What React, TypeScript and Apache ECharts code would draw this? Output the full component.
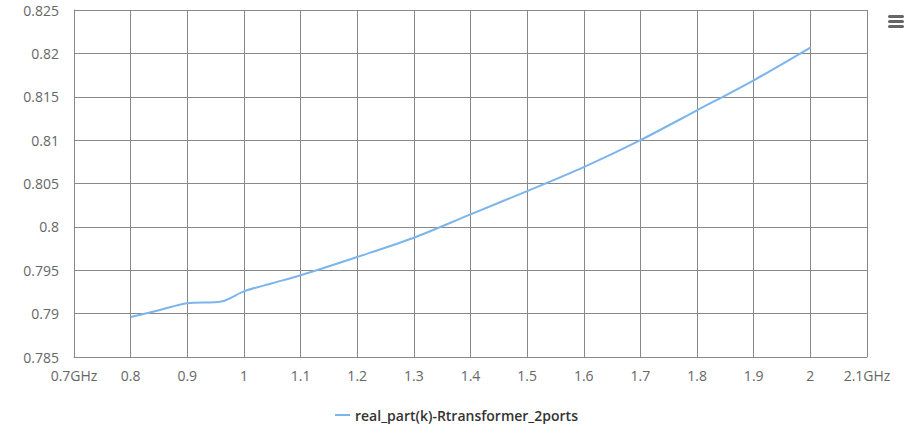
import React, { useEffect, useRef } from "react";
import * as echarts from "echarts";

const freqs = [0.8, 0.85, 0.9, 0.96, 1.0, 1.05, 1.1, 1.2, 1.3, 1.4, 1.5, 1.6, 1.7, 1.8, 1.9, 2.0];
const values = [0.7896, 0.7904, 0.7912, 0.7914, 0.79257, 0.7935, 0.79442, 0.79653, 0.79875, 0.80144, 0.80412, 0.80689, 0.81, 0.81344, 0.8169, 0.82067];
const seriesName = "real_part(k)-Rtransformer_2ports";
const xUnit = "GHz";

export default function App() {
  const ref = useRef<HTMLDivElement>(null);
  useEffect(() => {
    if (!ref.current) return;
    const chart = echarts.init(ref.current, undefined, { renderer: "svg" });
    const font = "'Open Sans', sans-serif";
    chart.setOption({
      animation: false,
      textStyle: { fontFamily: font },
      grid: { left: 74, right: 39, top: 10, bottom: 86, containLabel: false },
      legend: {
        left: 330,
        top: 403,
        icon: "rect",
        itemWidth: 15,
        itemHeight: 2,
        itemGap: 10,
        textStyle: { fontFamily: font, fontSize: 14, fontWeight: 600, color: "#333333" },
        data: [seriesName],
      },
      xAxis: {
        type: "value",
        min: 0.7,
        max: 2.1,
        interval: 0.1,
        axisLine: { show: true, lineStyle: { color: "#888888", width: 1 } },
        axisTick: { show: false },
        splitLine: { show: true, lineStyle: { color: "#888888", width: 1 } },
        axisLabel: {
          color: "#666666",
          fontSize: 14,
          fontFamily: font,
          margin: 11,
          formatter: (v: number) => {
            const r = parseFloat(v.toFixed(4));
            if (Math.abs(r - 0.7) < 1e-6 || Math.abs(r - 2.1) < 1e-6) return r + xUnit;
            return String(r);
          },
        },
      },
      yAxis: {
        type: "value",
        min: 0.785,
        max: 0.825,
        interval: 0.005,
        axisLine: { show: true, lineStyle: { color: "#888888", width: 1 } },
        axisTick: { show: false },
        splitLine: { show: true, lineStyle: { color: "#888888", width: 1 } },
        axisLabel: {
          color: "#666666",
          fontSize: 14,
          fontFamily: font,
          margin: 15,
          formatter: (v: number) => String(parseFloat(v.toFixed(4))),
        },
      },
      series: [
        {
          name: seriesName,
          type: "line",
          data: freqs.map((f, i) => [f, values[i]]),
          smooth: 0.3,
          showSymbol: false,
          symbol: "none",
          lineStyle: { color: "#7cb5ec", width: 2 },
          itemStyle: { color: "#7cb5ec" },
        },
      ],
      graphic: [
        { type: "rect", shape: { x: 888, y: 15, width: 16, height: 3, r: 1.5 }, style: { fill: "#666666" } },
        { type: "rect", shape: { x: 888, y: 20, width: 16, height: 3, r: 1.5 }, style: { fill: "#666666" } },
        { type: "rect", shape: { x: 888, y: 25, width: 16, height: 3, r: 1.5 }, style: { fill: "#666666" } },
      ],
    });
    return () => chart.dispose();
  }, []);
  return <div ref={ref} style={{ width: 906, height: 443, position: "absolute", left: 0, top: 0 }} />;
}
